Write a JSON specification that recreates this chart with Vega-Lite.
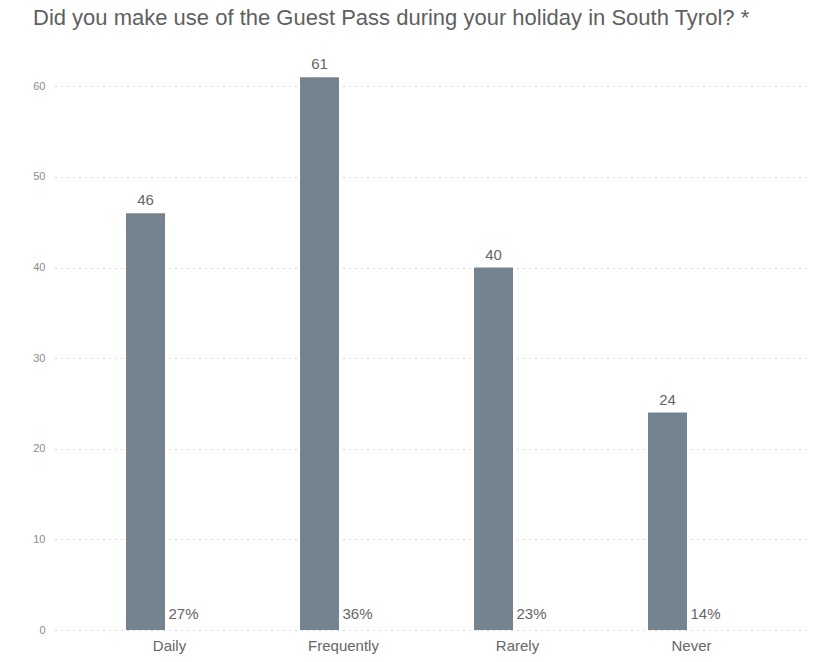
{
  "$schema": "https://vega.github.io/schema/vega-lite/v6.json",
  "autosize": "none",
  "width": 751,
  "height": 589,
  "padding": {"left": 55, "top": 41, "right": 12, "bottom": 32},
  "background": "white",
  "config": {"view": {"stroke": null}, "font": "Liberation Sans"},
  "title": {
    "text": "Did you make use of the Guest Pass during your holiday in South Tyrol? *",
    "anchor": "start",
    "frame": "group",
    "fontSize": 22,
    "font": "Liberation Sans",
    "fontWeight": "normal",
    "color": "#5f5f5f",
    "baseline": "alphabetic",
    "dx": -22,
    "offset": -6
  },
  "data": {
    "values": [
      {"answer": "Daily", "count": 46, "pct": "27%"},
      {"answer": "Frequently", "count": 61, "pct": "36%"},
      {"answer": "Rarely", "count": 40, "pct": "23%"},
      {"answer": "Never", "count": 24, "pct": "14%"}
    ]
  },
  "encoding": {
    "x": {
      "field": "answer",
      "type": "nominal",
      "sort": null,
      "scale": {"paddingInner": 0, "paddingOuter": 0.158},
      "axis": {
        "title": null,
        "labelAngle": 0,
        "domain": false,
        "ticks": false,
        "grid": false,
        "labelFontSize": 15,
        "labelColor": "#666666",
        "labelPadding": 8,
        "labelFont": "Liberation Sans"
      }
    }
  },
  "layer": [
    {
      "mark": {"type": "bar", "width": 39, "xOffset": -24, "color": "#748390"},
      "encoding": {
        "y": {
          "field": "count",
          "type": "quantitative",
          "scale": {"domain": [0, 65], "nice": false},
          "axis": {
            "title": null,
            "values": [0, 10, 20, 30, 40, 50, 60],
            "grid": true,
            "gridDash": [1, 5],
            "gridColor": "#b0b0b0",
            "domain": false,
            "ticks": false,
            "labelColor": "#8c8c8c",
            "labelFontSize": 11,
            "labelPadding": 10,
            "labelFont": "Liberation Sans"
          }
        }
      }
    },
    {
      "mark": {"type": "text", "xOffset": -24, "dy": -8, "baseline": "alphabetic", "fontSize": 15, "color": "#666666", "font": "Liberation Sans"},
      "encoding": {
        "y": {"field": "count", "type": "quantitative"},
        "text": {"field": "count", "type": "quantitative"}
      }
    },
    {
      "mark": {"type": "text", "align": "left", "dx": -1, "dy": -11, "baseline": "alphabetic", "fontSize": 15, "color": "#666666", "font": "Liberation Sans"},
      "encoding": {
        "y": {"datum": 0, "type": "quantitative"},
        "text": {"field": "pct", "type": "nominal"}
      }
    }
  ]
}
